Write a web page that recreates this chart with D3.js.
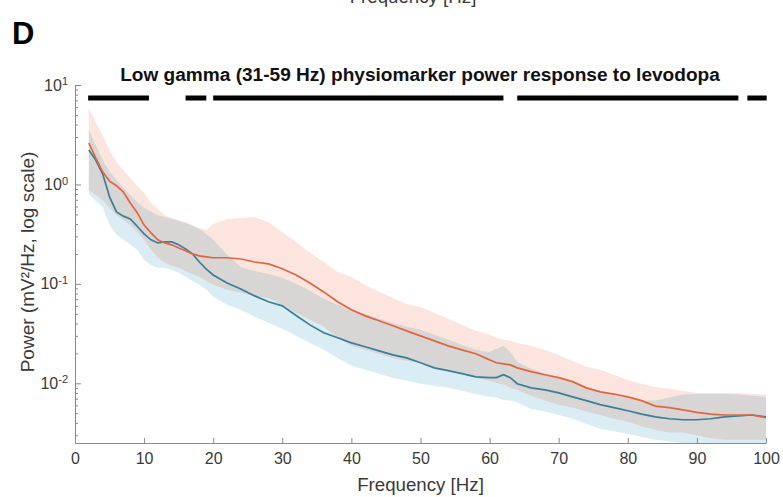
<!DOCTYPE html>
<html>
<head>
<meta charset="utf-8">
<script src="https://cdn.jsdelivr.net/npm/d3@7"></script>
<style>
  body { margin: 0; background: #fff; }
  svg text { font-family: "Liberation Sans", Arial, sans-serif; }
</style>
</head>
<body>
<svg id="chart" width="783" height="497"></svg>
<script>
// frequency grid (Hz)
var freqs = [2,3,4,5,6,7,8,9,10,11,12,13,14,15,16,17,18,19,20,
  22,24,26,28,30,32,34,36,38,40,42,44,46,48,50,52,54,56,58,60,
  61,62,63,
  64,66,68,70,72,74,76,78,80,82,84,86,88,90,92,94,96,98,100];

// red series: mean and shaded band (mV^2/Hz)
var redMean = [2.61,1.85,1.34,1.08,0.97,0.84,0.65,0.52,0.39,0.326,0.277,0.258,0.247,0.230,0.215,0.200,0.191,0.187,0.183,
  0.183,0.178,0.166,0.159,0.142,0.123,0.102,0.083,0.066,0.055,0.0477,0.0425,0.0379,0.0337,0.0300,0.0267,0.0238,0.0217,0.0198,0.0172,
  0.0161,0.0157,0.0153,
  0.0143,0.0131,0.0122,0.0114,0.0104,0.0090,0.0082,0.0078,0.0073,0.0067,0.0059,0.0057,0.0054,0.0051,0.0049,0.0048,0.0048,0.0048,0.0045];
var redUpper = [5.9,4.25,3.14,2.22,1.68,1.40,1.16,0.966,0.822,0.652,0.567,0.494,0.461,0.440,0.420,0.392,0.365,0.349,0.401,
  0.450,0.461,0.471,0.420,0.333,0.264,0.205,0.166,0.132,0.118,0.0977,0.0831,0.0723,0.0629,0.0587,0.0511,0.0445,0.0387,0.0337,0.0307,
  0.0287,0.0274,0.0268,
  0.0255,0.0238,0.0217,0.0193,0.0168,0.0147,0.0137,0.0122,0.0108,0.0099,0.0092,0.0088,0.0084,0.0080,0.0080,0.0080,0.0080,0.0078,0.0077];
var redLower = [0.881,0.784,0.699,0.580,0.494,0.440,0.392,0.333,0.277,0.220,0.183,0.163,0.152,0.145,0.135,0.126,0.118,0.107,0.098,
  0.0871,0.0813,0.0757,0.0723,0.0615,0.0511,0.0435,0.0370,0.0287,0.0238,0.0217,0.0198,0.0180,0.0168,0.0161,0.0147,0.0134,0.0125,0.0113,0.0106,
  0.0101,0.0097,0.0090,
  0.0086,0.0075,0.0067,0.0061,0.0057,0.0052,0.0048,0.0044,0.0041,0.0037,0.0034,0.0032,0.0032,0.0030,0.0028,0.0027,0.0027,0.0027,0.0027];

// blue series: mean and shaded band (mV^2/Hz)
var blueMean = [2.22,1.76,1.28,0.75,0.53,0.48,0.45,0.38,0.318,0.277,0.258,0.264,0.264,0.247,0.225,0.200,0.166,0.141,0.123,
  0.102,0.089,0.0757,0.066,0.0601,0.048,0.0387,0.0322,0.0287,0.0255,0.0233,0.0212,0.0193,0.0180,0.0161,0.0143,0.0134,0.0125,0.0116,0.0114,
  0.0114,0.0122,0.0114,
  0.0099,0.0090,0.0086,0.0080,0.0073,0.0067,0.0061,0.0057,0.0053,0.0049,0.0046,0.0044,0.0043,0.0043,0.0044,0.0046,0.0047,0.0048,0.0046];
var blueUpper = [3.53,2.49,1.76,1.34,1.11,0.923,0.784,0.667,0.580,0.530,0.494,0.471,0.450,0.430,0.410,0.383,0.357,0.318,0.277,
  0.196,0.148,0.135,0.126,0.115,0.100,0.0851,0.0707,0.0615,0.0548,0.0499,0.0445,0.0406,0.0370,0.0345,0.0307,0.0274,0.0244,0.0217,0.0207,
  0.0222,0.0238,0.0207,
  0.0164,0.0140,0.0125,0.0116,0.0104,0.0092,0.0084,0.0077,0.0072,0.0067,0.0067,0.0072,0.0077,0.0078,0.0078,0.0078,0.0077,0.0075,0.0073];
var blueLower = [0.80,0.68,0.594,0.392,0.311,0.277,0.247,0.220,0.174,0.155,0.145,0.145,0.138,0.129,0.118,0.107,0.098,0.0871,0.074,
  0.0615,0.0548,0.0466,0.0406,0.0353,0.0300,0.0255,0.0217,0.0180,0.0150,0.0137,0.0125,0.0113,0.0106,0.0099,0.0094,0.0090,0.0084,0.0078,0.0073,
  0.0072,0.0068,0.0067,
  0.0064,0.0055,0.0052,0.0048,0.0044,0.0039,0.0035,0.0033,0.0031,0.0029,0.0027,0.0026,0.0025,0.0024,0.0024,0.0024,0.0024,0.0024,0.0024];

// significance bars: frequency ranges (Hz) and the level they sit at
var sigSegments = [[1.9,10.7],[16.0,19.0],[20.0,62.0],[64.0,96.0],[97.3,100.1]];
var sigLevel = 7.4;

// axis ticks
var xTicks = [0,10,20,30,40,50,60,70,80,90,100];
var yTicks = [0.01,0.1,1,10];
var yMin = 0.00251, yMax = 10;

var svg = d3.select("#chart");
var axisColor = "#8a8a8a", textColor = "#3a3a3a";

var x = d3.scaleLinear().domain([0,100]).range([75,766]);
var y = d3.scaleLog().domain([yMin, yMax]).range([443,85]);

var rows = freqs.map(function(f, i) {
  return { f: f, rm: redMean[i], rh: redUpper[i], rl: redLower[i],
           bm: blueMean[i], bh: blueUpper[i], bl: blueLower[i] };
});

svg.append("defs").append("clipPath").attr("id","plotclip")
  .append("rect").attr("x",75).attr("y",85).attr("width",691).attr("height",358);

var plot = svg.append("g").attr("clip-path","url(#plotclip)");

// shaded bands
plot.append("path").datum(rows)
  .attr("fill","#fde5df")
  .attr("d", d3.area().x(function(d){ return x(d.f); })
    .y0(function(d){ return y(d.rl); }).y1(function(d){ return y(d.rh); }));
plot.append("path").datum(rows)
  .attr("fill","#daedf4")
  .style("mix-blend-mode","multiply")
  .attr("d", d3.area().x(function(d){ return x(d.f); })
    .y0(function(d){ return y(d.bl); }).y1(function(d){ return y(d.bh); }));

// mean lines
plot.append("path").datum(rows)
  .attr("fill","none").attr("stroke","#3b7e98").attr("stroke-width",1.7)
  .attr("d", d3.line().x(function(d){ return x(d.f); }).y(function(d){ return y(d.bm); }));
plot.append("path").datum(rows)
  .attr("fill","none").attr("stroke","#e3653f").attr("stroke-width",1.7)
  .attr("d", d3.line().x(function(d){ return x(d.f); }).y(function(d){ return y(d.rm); }));

// significance bars
svg.selectAll("line.sig").data(sigSegments).enter().append("line")
  .attr("class","sig")
  .attr("x1", function(d){ return x(d[0]); })
  .attr("x2", function(d){ return x(d[1]); })
  .attr("y1", y(sigLevel)).attr("y2", y(sigLevel))
  .attr("stroke","#000").attr("stroke-width",5);

// x axis
var gx = svg.append("g").attr("transform","translate(0,443)")
  .call(d3.axisBottom(x).tickValues(xTicks).tickSize(-5).tickSizeOuter(0).tickPadding(10))
  .attr("font-family", null).attr("font-size", null);
gx.select(".domain").attr("stroke", axisColor);
gx.selectAll(".tick line").attr("stroke", axisColor);
gx.selectAll(".tick text").attr("fill", textColor).style("font-size","16px");

// y axis, minor ticks
var minorTicks = [];
[-3,-2,-1,0].forEach(function(p) {
  for (var m = 2; m <= 9; m++) {
    var v = m * Math.pow(10, p);
    if (v >= yMin && v <= yMax) minorTicks.push(v);
  }
});
var gyMinor = svg.append("g").attr("transform","translate(75,0)")
  .call(d3.axisLeft(y).tickValues(minorTicks).tickSize(-3).tickSizeOuter(0).tickFormat(""));
gyMinor.select(".domain").remove();
gyMinor.selectAll(".tick line").attr("stroke", axisColor);

// y axis, major ticks
var gy = svg.append("g").attr("transform","translate(75,0)")
  .call(d3.axisLeft(y).tickValues(yTicks).tickSize(-6).tickSizeOuter(0).tickPadding(7).tickFormat(""))
  .attr("font-family", null).attr("font-size", null);
gy.select(".domain").attr("stroke", axisColor);
gy.selectAll(".tick line").attr("stroke", axisColor);
gy.selectAll(".tick text").attr("fill", textColor).style("font-size","16px")
  .each(function(d) {
    var t = d3.select(this);
    t.append("tspan").text("10");
    t.append("tspan").attr("dy","-0.5em").style("font-size","11px")
      .text(Math.round(Math.log10(d)));
  });

// axis labels
svg.append("text")
  .attr("x", x(50)).attr("y", 491)
  .attr("text-anchor","middle").attr("fill", textColor)
  .style("font-size","18.7px")
  .text("Frequency [Hz]");

svg.append("text")
  .attr("transform","translate(34,262) rotate(-90)")
  .attr("text-anchor","middle").attr("fill", textColor)
  .style("font-size","19px")
  .text("Power (mV\u00B2/Hz, log scale)");

// title
var title = svg.append("text")
  .attr("x", 420).attr("y", 81)
  .attr("text-anchor","middle").attr("fill","#111")
  .style("font-size","16px").style("font-weight","bold")
  .text("Low gamma (31-59 Hz) physiomarker power response to levodopa");
var tw = title.node().getComputedTextLength();
title.style("font-size", (16 * 600 / tw) + "px");

// panel letter
svg.append("text")
  .attr("x", 12).attr("y", 44)
  .attr("fill","#000")
  .style("font-size","31px").style("font-weight","bold")
  .text("D");

// x label of the panel above, cut by the page edge
svg.append("text")
  .attr("x", 413).attr("y", 3)
  .attr("text-anchor","middle").attr("fill", textColor)
  .style("font-size","18.7px")
  .text("Frequency [Hz]");
</script>
</body>
</html>
